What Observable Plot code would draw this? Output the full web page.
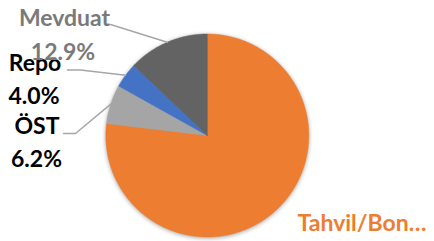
<!DOCTYPE html>
<html><head><meta charset="utf-8">
<script src="https://cdn.jsdelivr.net/npm/d3@7"></script>
<script src="https://cdn.jsdelivr.net/npm/@observablehq/plot@0.6"></script>
<style>html,body{margin:0;padding:0;background:#fff}svg{display:block}</style>
</head><body><div id="chart"></div>
<script>
// ---- data ----
const categories = ["Tahvil/Bono", "ÖST", "Repo", "Mevduat"];
const shares = [76.9, 6.2, 4.0, 12.9];
const nameLabels = ["Tahvil/Bon…", "ÖST", "Repo", "Mevduat"];
const pctLabels = ["76.9%", "6.2%", "4.0%", "12.9%"];
const sliceColors = ["#ED7D31", "#A5A5A5", "#4472C4", "#636363"];
const labelColors = ["#ED7D31", "#000000", "#000000", "#7a7a7a"];

// ---- layout ----
const W = 434, H = 241, R = 101.5, CX = 206.8, CY = 135;
const FONT = "Lato, 'Open Sans', sans-serif";
const FS = 23;
// label anchors (pixels): name line, percent line, leader start path
const layout = {
  "Tahvil/Bono": {name: [297, 230], anchor: "start", pct: null, leader: null},
  "ÖST": {name: [36.5, 133], pct: [36, 166], anchor: "middle", leader: [[63, 133], [75, 133]]},
  "Repo": {name: [34.5, 70], pct: [33.5, 103], anchor: "middle", leader: [[67, 69.5], [80, 69.5]]},
  "Mevduat": {name: [64, 25], pct: [62.5, 59], anchor: "middle", leader: [[110, 24]]}
};
const ux = px => (px - CX) / R;
const uy = py => (CY - py) / R;

const data = categories.map((c, i) => ({cat: c, share: shares[i], name: nameLabels[i], pct: pctLabels[i], color: labelColors[i]}));
const arcs = d3.pie().sort(null).value(d => d.share)(data);

// slice outlines (unit circle coordinates)
const slicePts = [];
arcs.forEach(a => {
  const n = Math.max(2, Math.ceil((a.endAngle - a.startAngle) / 0.01));
  slicePts.push({cat: a.data.cat, x: 0, y: 0});
  for (let k = 0; k <= n; k++) {
    const t = a.startAngle + (a.endAngle - a.startAngle) * k / n;
    slicePts.push({cat: a.data.cat, x: Math.sin(t), y: Math.cos(t)});
  }
  slicePts.push({cat: a.data.cat, x: 0, y: 0});
});

// leader lines
const leaderPts = [];
arcs.forEach(a => {
  const L = layout[a.data.cat];
  if (!L.leader) return;
  L.leader.forEach(p => leaderPts.push({cat: a.data.cat, x: ux(p[0]), y: uy(p[1])}));
  const m = (a.startAngle + a.endAngle) / 2;
  leaderPts.push({cat: a.data.cat, x: Math.sin(m), y: Math.cos(m)});
});

const textMarks = [];
data.forEach(d => {
  const L = layout[d.cat];
  textMarks.push(Plot.text([d], {x: () => ux(L.name[0]), y: () => uy(L.name[1]), text: "name",
    fill: d.color, textAnchor: L.anchor, lineAnchor: "bottom", fontSize: FS, fontWeight: 700, fontFamily: FONT}));
  if (L.pct) textMarks.push(Plot.text([d], {x: () => ux(L.pct[0]), y: () => uy(L.pct[1]), text: "pct",
    fill: d.color, textAnchor: L.anchor, lineAnchor: "bottom", fontSize: FS, fontWeight: 700, fontFamily: FONT}));
});

const chart = Plot.plot({
  width: W, height: H,
  margin: 0,
  style: {background: "#fff", overflow: "visible"},
  x: {domain: [ux(0), ux(W)], range: [0, W], axis: null},
  y: {domain: [uy(H), uy(0)], range: [H, 0], axis: null},
  color: {domain: categories, range: sliceColors},
  marks: [
    Plot.line(slicePts, {x: "x", y: "y", z: "cat", fill: "cat", stroke: "cat", strokeWidth: 0.5, curve: "linear"}),
    Plot.line(leaderPts, {x: "x", y: "y", z: "cat", stroke: "#a6a6a6", strokeWidth: 1.5, curve: "linear"}),
    ...textMarks
  ]
});
const g = chart.querySelector('g[aria-label="line"]');
if (g) g.style.filter = "drop-shadow(0px 1px 2px rgba(0,0,0,0.35))";
document.getElementById("chart").appendChild(chart);
</script>
</body></html>
